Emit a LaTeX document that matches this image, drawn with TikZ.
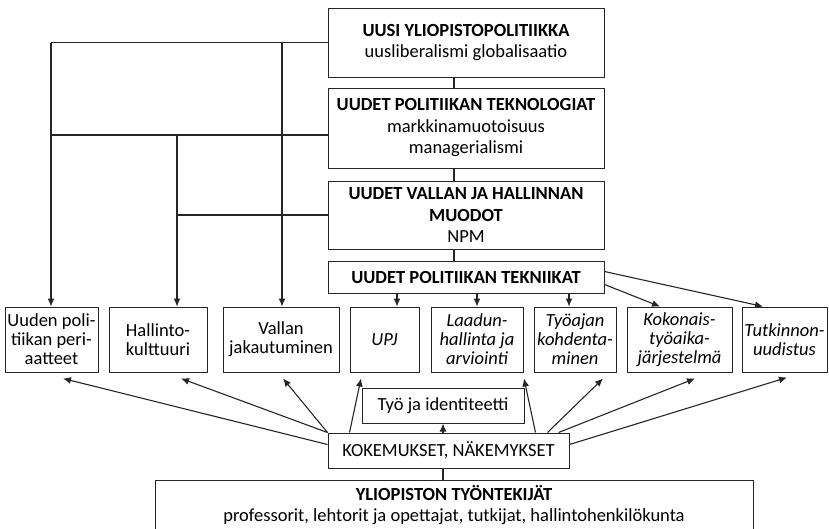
\documentclass[tikz,border=0pt]{standalone}
\usepackage{fontspec}
\setmainfont{Carlito}
\usetikzlibrary{arrows.meta,calc}
\tikzset{
  box/.style={draw=black!85, line width=1pt, rectangle, inner sep=0pt, align=center,
    font=\fontsize{18.5}{21.5}\selectfont},
  lowbox/.style={box, font=\fontsize{18.5}{19}\selectfont, minimum height=65pt},
  ln/.style={draw=black!85, line width=1.1pt},
  arr/.style={ln, -{Latex[length=8pt,width=7pt]}},
}
\begin{document}
\begin{tikzpicture}[x=1pt,y=-1pt]
\useasboundingbox (0,0) rectangle (829,528);
% central column
\node[box, minimum width=276pt, minimum height=69pt] (top) at (466,42.5)
  {\textbf{UUSI YLIOPISTOPOLITIIKKA}\\uusliberalismi globalisaatio};
\node[box, minimum width=276pt, minimum height=80pt] (tek) at (466,128)
  {\textbf{UUDET POLITIIKAN TEKNOLOGIAT}\\markkinamuotoisuus\\managerialismi};
\node[box, minimum width=276pt, minimum height=68pt] (val) at (466,215)
  {\textbf{UUDET VALLAN JA HALLINNAN}\\\textbf{MUODOT}\\NPM};
\node[box, minimum width=276pt, minimum height=32pt] (tekn) at (466,277)
  {\textbf{UUDET POLITIIKAN TEKNIIKAT}};
% lower row
\node[lowbox, minimum width=93pt] (b1) at (51.5,339.5) {Uuden poli-\\tiikan peri-\\aatteet};
\node[lowbox, minimum width=98pt] (b2) at (158,339.5) {Hallinto-\\kulttuuri};
\node[lowbox, minimum width=116pt] (b3) at (281,339.5) {Vallan\\jakautuminen};
\node[lowbox, minimum width=69pt] (b4) at (384.5,339.5) {\itshape UPJ};
\node[lowbox, minimum width=92pt] (b5) at (477,339.5) {\itshape Laadun-\\\itshape hallinta ja\\\itshape arviointi};
\node[lowbox, minimum width=82pt] (b6) at (575,339.5) {\itshape Työajan\\\itshape kohdenta-\\\itshape minen};
\node[lowbox, minimum width=105pt] (b7) at (679.5,339.5) {\itshape Kokonais-\\\itshape työaika-\\\itshape järjestelmä};
\node[lowbox, minimum width=85pt] (b8) at (784.5,339.5) {\itshape Tutkinnon-\\\itshape uudistus};
% bottom part
\node[box, minimum width=162pt, minimum height=35pt] (tyo) at (443,405.5) {Työ ja identiteetti};
\node[box, minimum width=241pt, minimum height=35pt] (kok) at (448.5,450.5) {KOKEMUKSET, NÄKEMYKSET};
\node[box, anchor=north, minimum width=598pt, inner ysep=5pt,
  font=\fontsize{18.5}{20.5}\selectfont] (bot) at (454,480)
  {\textbf{YLIOPISTON TYÖNTEKIJÄT}\\professorit, lehtorit ja opettajat, tutkijat, hallintohenkilökunta\\[8pt]};
% junction coordinates
\coordinate (cx) at (454,0);
\coordinate (ja) at (51,42.5);
\coordinate (je) at (282,42.5);
\coordinate (jb) at (51,135);
\coordinate (jc) at (177,135);
\coordinate (jd) at (177,215);
\coordinate (xa) at (397,0);
\coordinate (xb) at (569,0);
\coordinate (xk) at (660,0);
\coordinate (xt) at (763,0);
% central vertical links
\draw[ln] (top.south -| cx) -- (tek.north -| cx);
\draw[ln] (tek.south -| cx) -- (val.north -| cx);
\draw[ln] (val.south -| cx) -- (tekn.north -| cx);
% left tree
\draw[ln] (top.west) -- (ja);
\draw[arr] (ja) -- (b1.north -| ja);
\draw[arr] (je) -- (b3.north -| je);
\draw[ln] (tek.west |- jb) -- (jb);
\draw[arr] (jc) -- (b2.north -| jc);
\draw[ln] (val.west |- jd) -- (jd);
% techniques arrows
\draw[arr] (tekn.south -| xa) -- (b4.north -| xa);
\draw[arr] (tekn.south -| b5.north) -- (b5.north);
\draw[arr] (tekn.south -| xb) -- (b6.north -| xb);
\draw[arr] ($(tekn.south east)+(0,-9)$) -- (b7.north -| xk);
\draw[arr] ($(tekn.north east)+(0,11)$) -- (b8.north -| xt);
% experiences arrows
\draw[arr] ($(kok.north west)+(0,12)$) -- ($(b1.south)+(11.5,6)$);
\draw[arr] (kok.north west) -- ($(b2.south)+(23,6)$);
\draw[arr] (kok.north west) -- ($(b3.south)+(2,6)$);
\draw[arr] ($(kok.north west)+(22,0)$) -- ($(b4.south)+(-23.5,6)$);
\draw[arr] ($(kok.north east)+(-34,0)$) -- ($(b5.south)+(47,6)$);
\draw[arr] ($(kok.north east)+(-22,0)$) -- ($(b6.south)+(28,6)$);
\draw[arr] ($(kok.north east)+(-11,0)$) -- ($(b7.south)+(15.5,6)$);
\draw[arr] ($(kok.north east)+(0,12)$) -- ($(b8.south)+(2.5,5)$);
\draw[arr] (kok.north -| tyo.south) -- (tyo.south);
\draw[ln] (kok.south -| tyo.south) -- (bot.north -| tyo.south);
\end{tikzpicture}
\end{document}
